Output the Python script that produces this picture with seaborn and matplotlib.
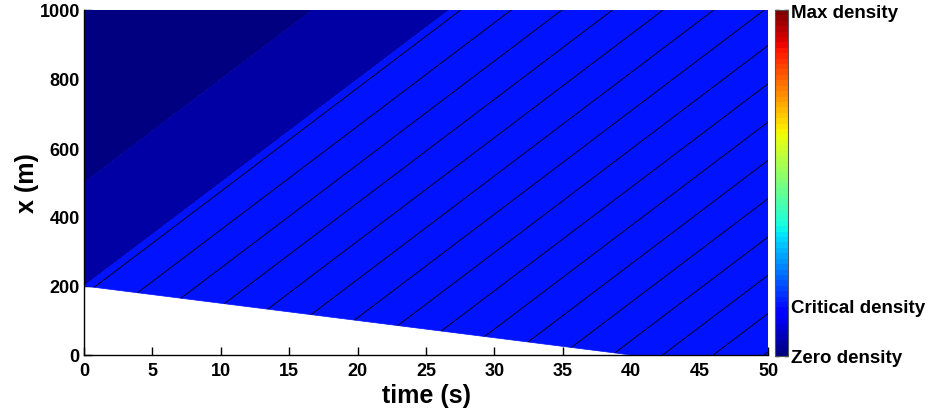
import numpy as np
import pandas as pd
import matplotlib
matplotlib.use("Agg")
import matplotlib.pyplot as plt
import matplotlib.colors as mcolors
from matplotlib.patches import Polygon
import seaborn as sns

# ---------------- data ----------------
t_range = [0, 50]          # time axis (s)
x_range = [0, 1000]        # space axis (m)
x_ticks = [0, 200, 400, 600, 800, 1000]
t_ticks = [0, 5, 10, 15, 20, 25, 30, 35, 40, 45, 50]

# queue tail (lower edge of the traffic, white below)
tail_t = [0, 40]
tail_x = [200, 0]
# boundary between critical-density region and low-density region
front_crit_t = [0, 26.7]
front_crit_x = [200, 1000]
# boundary between low-density region and empty road
front_zero_t = [0, 16.7]
front_zero_x = [500, 1000]

# normalised densities of the three regions
dens_zero = 0.0
dens_low = 0.035
dens_crit = 0.145

# vehicle trajectories: time at which each one passes x = 0, and its speed
veh_t0 = [-5.8, -2.1, 1.6, 5.3, 9.0, 12.7, 16.4, 20.1, 23.8, 27.5,
          31.2, 34.9, 38.6, 42.3, 46.0, 49.7]
veh_speed = 30.0

cbar_ticks = [dens_zero, dens_crit, 1.0]
cbar_labels = ["Zero density", "Critical density", "Max density"]

# ---------------- style ----------------
sns.set_style("ticks")
plt.rcParams["font.family"] = ["Liberation Sans", "DejaVu Sans"]
plt.rcParams["font.weight"] = "bold"
plt.rcParams["text.color"] = "black"
plt.rcParams["axes.labelcolor"] = "black"
plt.rcParams["xtick.color"] = "black"
plt.rcParams["ytick.color"] = "black"

cmap = plt.get_cmap("jet", 64)
norm = mcolors.Normalize(0, 1)

W, H = 930, 410
fig = plt.figure(figsize=(W / 100, H / 100), dpi=100)
ax = fig.add_axes([84 / W, (H - 356) / H, 684 / W, 345 / H])
cax = fig.add_axes([775 / W, (H - 357) / H, 13 / W, 346 / H])

# ---------------- regions ----------------
zero_poly = [(front_zero_t[0], front_zero_x[0]),
             (front_zero_t[1], front_zero_x[1]),
             (t_range[0], x_range[1])]
low_poly = [(front_crit_t[0], front_crit_x[0]),
            (front_crit_t[1], front_crit_x[1]),
            (front_zero_t[1], front_zero_x[1]),
            (front_zero_t[0], front_zero_x[0])]
crit_poly = [(tail_t[0], tail_x[0]),
             (tail_t[1], tail_x[1]),
             (t_range[1], x_range[0]),
             (t_range[1], x_range[1]),
             (front_crit_t[1], front_crit_x[1])]

for poly, d in [(zero_poly, dens_zero), (low_poly, dens_low), (crit_poly, dens_crit)]:
    ax.add_patch(Polygon(poly, closed=True, facecolor=cmap(norm(d)),
                         edgecolor=cmap(norm(d)), lw=0.5, zorder=1))

clip = Polygon(crit_poly, closed=True, transform=ax.transData)

# ---------------- trajectories ----------------
rows = []
for i, t0 in enumerate(veh_t0):
    rows.append({"veh": i, "t": t0, "x": x_range[0]})
    rows.append({"veh": i, "t": t0 + (x_range[1] - x_range[0]) / veh_speed, "x": x_range[1]})
df = pd.DataFrame(rows)
n_before = len(ax.lines)
sns.lineplot(data=df, x="t", y="x", units="veh", estimator=None, sort=False,
             color="black", lw=0.6, ax=ax, legend=False, zorder=2)
for ln in ax.lines[n_before:]:
    ln.set_clip_path(clip)

# ---------------- axes ----------------
ax.set_xlim(*t_range)
ax.set_ylim(*x_range)
ax.set_xticks(t_ticks)
ax.set_yticks(x_ticks)
ax.set_xticklabels([str(v) for v in t_ticks], fontsize=13, fontweight="bold")
ax.set_yticklabels([str(v) for v in x_ticks], fontsize=13, fontweight="bold")
ax.tick_params(direction="in", length=6, width=1, colors="black")
ax.tick_params(axis="x", pad=5)
ax.tick_params(axis="y", pad=3)
ax.set_axisbelow(True)
sns.despine(ax=ax)
for s in ["left", "bottom"]:
    ax.spines[s].set_color("black")
    ax.spines[s].set_linewidth(1.0)
    ax.spines[s].set_zorder(3)
ax.set_xlabel("time (s)", fontsize=18, fontweight="bold", labelpad=3, color="black")
ax.set_ylabel("x (m)", fontsize=18, fontweight="bold", labelpad=0, color="black")

# ---------------- colorbar ----------------
cb = matplotlib.colorbar.ColorbarBase(cax, cmap=cmap, norm=norm, ticks=cbar_ticks)
cb.set_ticklabels(cbar_labels)
cb.outline.set_edgecolor("#555555")
cb.outline.set_linewidth(0.8)
cax.tick_params(direction="in", length=3, width=1, pad=2, left=True, right=True,
                labelsize=13.5, colors="black")
for lab in cax.get_yticklabels():
    lab.set_fontweight("bold")

fig.savefig("out.png", dpi=100)
